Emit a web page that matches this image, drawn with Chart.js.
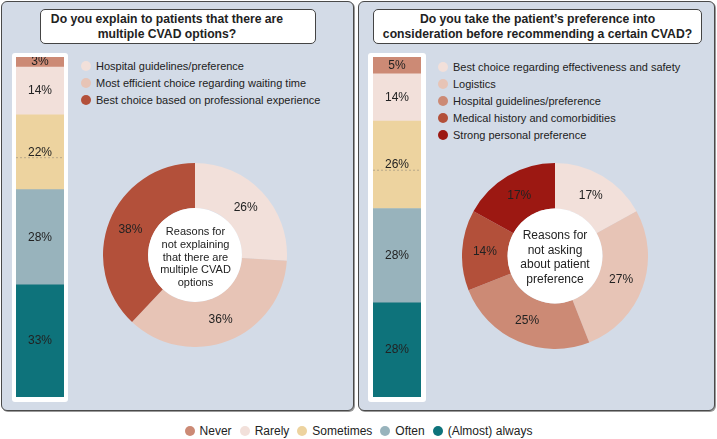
<!DOCTYPE html>
<html>
<head>
<meta charset="utf-8">
<script src="https://cdn.jsdelivr.net/npm/chart.js@4.4.1/dist/chart.umd.min.js"></script>
<style>
  body { margin: 0; width: 717px; height: 439px; background: #fff; position: relative; overflow: hidden;
         font-family: "Liberation Sans", Arial, sans-serif; color: #222; }
  .panel { position: absolute; top: 1px; height: 408px; background: #d3dbe7; border: 1.5px solid #4a4a4a;
           border-radius: 6px; box-shadow: 1px 1px 0 #9a9a9a; }
  .title { position: absolute; top: 9px; height: 33px; background: #fff; border: 1px solid #444; border-radius: 5px;
           font-weight: bold; font-size: 12.2px; line-height: 15px; text-align: center; display: flex;
           align-items: center; justify-content: center; white-space: nowrap; box-sizing: content-box; }
  .frame { position: absolute; top: 53px; height: 349px; background: #fff; border-radius: 3px; }
  canvas { position: absolute; }
  .legend { position: absolute; font-size: 11px; }
  .legend .item { position: absolute; left: 0; white-space: nowrap; line-height: 13px; }
  .dot { display: inline-block; width: 10px; height: 10px; border-radius: 50%; vertical-align: -1px; margin-right: 5px; }
  .center { position: absolute; text-align: center; transform: translate(-50%, -50%); white-space: nowrap; color: #222; }
  #bottom { position: absolute; left: 0; width: 717px; top: 424px; display: flex; justify-content: center;
            font-size: 12px; line-height: 14px; }
  #bottom span.it { margin: 0 4px; white-space: nowrap; }
</style>
</head>
<body>
<div class="panel" style="left:1px; width:351px;"></div>
<div class="panel" style="left:358px; width:355px;"></div>
<div class="title" style="left:40px; width:252px; padding-right:22px;">Do you explain to patients that there are<br>multiple CVAD options?</div>
<div class="title" style="left:373px; width:327px;">Do you take the patient’s preference into<br>consideration before recommending a certain CVAD?</div>
<div class="frame" style="left:12px; width:56px;"></div>
<div class="frame" style="left:368px; width:58px;"></div>
<canvas id="barLeft" width="48" height="340" style="left:16px; top:57px;"></canvas>
<canvas id="barRight" width="48" height="340" style="left:373px; top:57px;"></canvas>
<canvas id="donutLeft" width="184" height="184" style="left:103px; top:163px;"></canvas>
<canvas id="donutRight" width="186" height="186" style="left:462px; top:163px;"></canvas>
<div class="center" style="left:195.5px; top:257px; font-size:11px; line-height:12.8px;">Reasons for<br>not explaining<br>that there are<br>multiple CVAD<br>options</div>
<div class="center" style="left:555px; top:257px; font-size:12px; line-height:14.5px;">Reasons for<br>not asking<br>about patient<br>preference</div>
<div class="legend" id="legLeft" style="left:81px; top:60px;"></div>
<div class="legend" id="legRight" style="left:438px; top:61px;"></div>
<div id="bottom"></div>
<script>
const freqLabels = ['Never', 'Rarely', 'Sometimes', 'Often', '(Almost) always'];
const freqColors = ['#cc8a75', '#f2e0da', '#edd39f', '#98b3bc', '#0e737b'];
const explainFreq = [3, 14, 22, 28, 33];
const preferenceFreq = [5, 14, 26, 28, 28];

const explainReasons = ['Hospital guidelines/preference', 'Most efficient choice regarding waiting time', 'Best choice based on professional experience'];
const explainReasonValues = [26, 36, 38];
const explainColors = ['#f2e0da', '#e7c4b6', '#b3503a'];

const preferenceReasons = ['Best choice regarding effectiveness and safety', 'Logistics', 'Hospital guidelines/preference', 'Medical history and comorbidities', 'Strong personal preference'];
const preferenceReasonValues = [17, 27, 25, 14, 17];
const preferenceColors = ['#f2e0da', '#e7c4b6', '#cc8a75', '#b3503a', '#9c1812'];

const FONT = '"Liberation Sans", Arial, sans-serif';

// percent labels inside stacked bar segments
const barLabels = {
    id: 'barLabels',
    afterDatasetsDraw(chart) {
        const ctx = chart.ctx;
        ctx.save();
        ctx.font = '12px ' + FONT;
        ctx.fillStyle = '#222';
        ctx.textAlign = 'center';
        ctx.textBaseline = 'middle';
        chart.data.datasets.forEach((ds, i) => {
            const bar = chart.getDatasetMeta(i).data[0];
            const cy = (bar.y + bar.base) / 2;
            if (ds.label === 'Sometimes') {
                ctx.strokeStyle = '#b8a88a';
                ctx.setLineDash([2, 2]);
                ctx.lineWidth = 1;
                ctx.beginPath();
                ctx.moveTo(bar.x - bar.width / 2, cy + 5.5);
                ctx.lineTo(bar.x + bar.width / 2, cy + 5.5);
                ctx.stroke();
                ctx.setLineDash([]);
            }
            ctx.fillText(ds.data[0] + '%', bar.x, cy);
        });
        ctx.restore();
    }
};

function renderBar(id, values) {
    const total = values.reduce((a, b) => a + b, 0);
    const datasets = freqLabels.map((l, i) => ({
        label: l, data: [values[i]], backgroundColor: freqColors[i],
        borderWidth: 0, barPercentage: 1, categoryPercentage: 1
    })).reverse();
    new Chart(document.getElementById(id), {
        type: 'bar',
        data: { labels: [''], datasets: datasets },
        options: {
            responsive: false, animation: false,
            layout: { padding: 0 },
            plugins: { legend: { display: false }, tooltip: { enabled: false } },
            scales: {
                x: { stacked: true, display: false },
                y: { stacked: true, display: false, min: 0, max: total }
            }
        },
        plugins: [barLabels]
    });
}

// white hole + percent labels on the doughnut
const donutLabels = {
    id: 'donutLabels',
    afterDatasetsDraw(chart) {
        const ctx = chart.ctx;
        const meta = chart.getDatasetMeta(0);
        const first = meta.data[0];
        ctx.save();
        ctx.fillStyle = '#fff';
        ctx.beginPath();
        ctx.arc(first.x, first.y, first.innerRadius, 0, Math.PI * 2);
        ctx.fill();
        ctx.font = '12px ' + FONT;
        ctx.fillStyle = '#222';
        ctx.textAlign = 'center';
        ctx.textBaseline = 'middle';
        meta.data.forEach((arc, i) => {
            const p = arc.tooltipPosition();
            ctx.fillText(chart.data.datasets[0].data[i] + '%', p.x, p.y);
        });
        ctx.restore();
    }
};

function renderDonut(id, labels, values, colors) {
    new Chart(document.getElementById(id), {
        type: 'doughnut',
        data: { labels: labels, datasets: [{ data: values, backgroundColor: colors, borderWidth: 0 }] },
        options: {
            responsive: false, animation: false, cutout: '51%',
            layout: { padding: 0 },
            plugins: { legend: { display: false }, tooltip: { enabled: false } }
        },
        plugins: [donutLabels]
    });
}

function renderLegend(id, labels, colors, step) {
    const el = document.getElementById(id);
    labels.forEach((l, i) => {
        const d = document.createElement('div');
        d.className = 'item';
        d.style.top = (i * step) + 'px';
        d.innerHTML = '<span class="dot" style="background:' + colors[i] + '"></span>' + l;
        el.appendChild(d);
    });
}

renderBar('barLeft', explainFreq);
renderBar('barRight', preferenceFreq);
renderDonut('donutLeft', explainReasons, explainReasonValues, explainColors);
renderDonut('donutRight', preferenceReasons, preferenceReasonValues, preferenceColors);
renderLegend('legLeft', explainReasons, explainColors, 17);
renderLegend('legRight', preferenceReasons, preferenceColors, 17.1);

const bottom = document.getElementById('bottom');
freqLabels.forEach((l, i) => {
    const s = document.createElement('span');
    s.className = 'it';
    s.innerHTML = '<span class="dot" style="background:' + freqColors[i] + '"></span>' + l;
    bottom.appendChild(s);
});
</script>
</body>
</html>
